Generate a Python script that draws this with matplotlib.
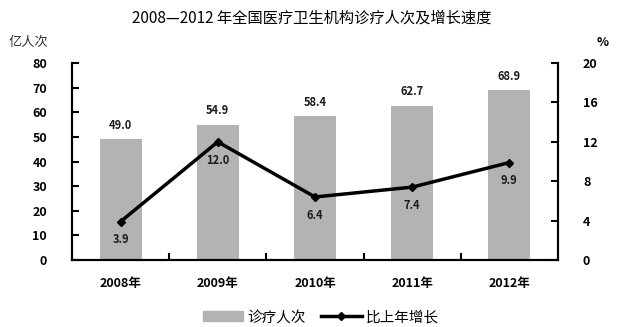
import matplotlib
matplotlib.use("Agg")
import matplotlib.pyplot as plt
from matplotlib.lines import Line2D
from matplotlib.patches import Patch

plt.rcParams['font.family'] = ['Noto Sans CJK SC', 'DejaVu Sans']

categories = ["2008年", "2009年", "2010年", "2011年", "2012年"]
visits = [49.0, 54.9, 58.4, 62.7, 68.9]
growth = [3.9, 12.0, 6.4, 7.4, 9.9]
left_ticks = [0, 10, 20, 30, 40, 50, 60, 70, 80]
right_ticks = [0, 4, 8, 12, 16, 20]

fig = plt.figure(figsize=(6.23, 3.27), dpi=100)
ax = fig.add_axes([0.1156, 0.205, 0.78, 0.602])
ax2 = ax.twinx()

x = list(range(len(categories)))
ax.bar(x, visits, width=0.43, color="#b3b3b3", zorder=1)
for xi, v in zip(x, visits):
    ax.text(xi, v + 3, f"{v:.1f}", ha="center", va="bottom", fontsize=8, fontweight="bold", color="#1a1a1a")

ax2.plot(x, growth, color="black", lw=2.5, marker="D", ms=4, zorder=3)
for xi, g in zip(x, growth):
    ax2.text(xi, g - 1.2, f"{g:.1f}", ha="center", va="top", fontsize=8, fontweight="bold", color="#1a1a1a")

ax.set_xlim(-0.5, 4.5)
ax.set_ylim(0, 80)
ax2.set_ylim(0, 20)
ax.set_yticks(left_ticks)
ax2.set_yticks(right_ticks)
ax.set_xticks(x)
ax.set_xticklabels(categories, fontsize=9, fontweight="bold")
ax.set_xticks([0.5, 1.5, 2.5, 3.5], minor=True)
ax.tick_params(axis="x", which="major", length=0, pad=12)
ax.tick_params(axis="x", which="minor", direction="in", length=5, width=1.5)
ax.tick_params(axis="y", direction="in", length=5, width=1.5, labelsize=9, pad=18)
ax2.tick_params(axis="y", direction="in", length=5, width=1.5, labelsize=9, pad=18)
for a in (ax, ax2):
    for lab in a.get_yticklabels():
        lab.set_fontweight("bold")
    a.spines["top"].set_visible(False)
    for s in ("left", "right", "bottom"):
        a.spines[s].set_linewidth(1.5)

fig.text(0.5, 0.945, "2008—2012 年全国医疗卫生机构诊疗人次及增长速度", ha="center", va="center", fontsize=11)
fig.text(0.013, 0.87, "亿人次", ha="left", va="center", fontsize=9.5, color="#333333")
fig.text(0.958, 0.87, "%", ha="left", va="center", fontsize=9, fontweight="bold")

handles = [Patch(color="#b3b3b3"), Line2D([0], [0], color="black", lw=2.5, marker="D", ms=4)]
fig.legend(handles, ["诊疗人次", "比上年增长"], loc="center", bbox_to_anchor=(0.515, 0.03),
           ncol=2, frameon=False, fontsize=10.5, handlelength=2.8, columnspacing=1.0, handletextpad=0.3)

fig.savefig("out.png", dpi=100)
